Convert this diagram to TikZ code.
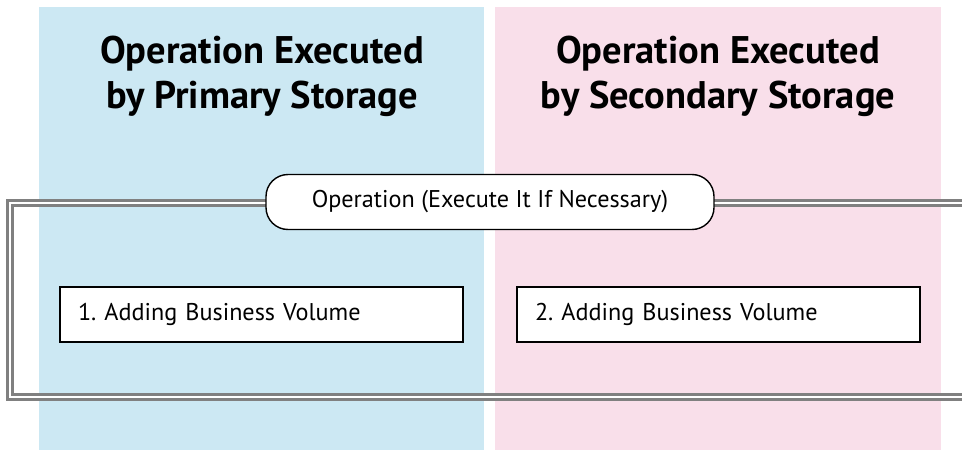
\documentclass[tikz,border=0pt]{standalone}
\usepackage{fontspec}
\setmainfont{PT Sans}
\frenchspacing
\definecolor{panelblue}{HTML}{CCE8F3}
\definecolor{panelpink}{HTML}{F9DFEA}
\definecolor{frameg}{HTML}{808080}
\begin{document}
\begin{tikzpicture}[x=1pt,y=-1pt,
  title/.style={font=\bfseries\fontsize{38.5}{45}\selectfont, align=center, text=black},
  opbox/.style={draw=black, line width=1.4pt, fill=white, rounded corners=22pt, minimum width=448pt, minimum height=55pt, font=\fontsize{24.2}{28}\selectfont, inner sep=0pt},
  stepbox/.style={draw=black, line width=1.4pt, fill=white, minimum width=403pt, minimum height=55pt, font=\fontsize{24.2}{28}\selectfont, text width=367pt, align=left, inner sep=0pt}]
\useasboundingbox (0,0) rectangle (962,450);
\fill[panelblue] (39,7) rectangle (484,450);
\fill[panelpink] (495,7) rectangle (941,450);
\node[title] (t1) at (262,76) {Operation Executed\\by Primary Storage};
\node[title] (t2) at (718,76) {Operation Executed\\by Secondary Storage};
\coordinate (fr1) at (962,203);
\coordinate (fr2) at (10,203);
\coordinate (fr3) at (10,397);
\coordinate (fr4) at (962,397);
\draw[draw=frameg, line width=7.5pt] (fr1) -- (fr2) -- (fr3) -- (fr4);
\draw[draw=white, line width=2.6pt] (fr1) -- (fr2) -- (fr3) -- (fr4);
\node[opbox] (op) at (490,202) {Operation (Execute It If Necessary)};
\node[stepbox] (s1) at (261.5,314.5) {1. Adding Business Volume};
\node[stepbox] (s2) at (718.5,314.5) {2. Adding Business Volume};
\end{tikzpicture}
\end{document}
